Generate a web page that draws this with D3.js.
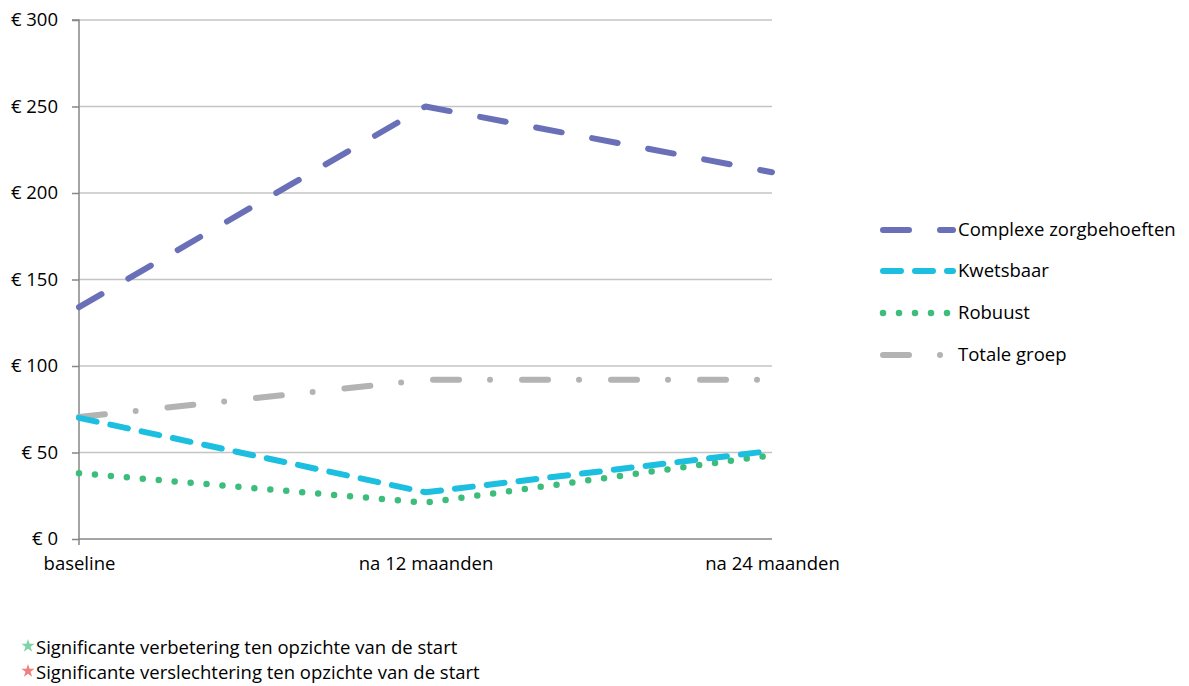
<!DOCTYPE html>
<html>
<head>
<meta charset="utf-8">
<script src="https://cdn.jsdelivr.net/npm/d3@7"></script>
<style>
  body { margin: 0; background: #fff; }
  svg { display: block; font-family: "Open Sans", "Noto Sans", sans-serif; }
</style>
</head>
<body>
<svg id="chart" width="1189" height="686"></svg>
<script>
const categories = ["baseline", "na 12 maanden", "na 24 maanden"];
const seriesNames = ["Complexe zorgbehoeften", "Kwetsbaar", "Robuust", "Totale groep"];
const complexe = [134, 250, 212];
const kwetsbaar = [70, 27, 51];
const robuust = [38, 21, 48.5];
const totale = [70.5, 92, 92];
const yTicks = [0, 50, 100, 150, 200, 250, 300];
const notes = ["Significante verbetering ten opzichte van de start", "Significante verslechtering ten opzichte van de start"];

(function () {
const FS = 18.5;
const series = [
  { name: seriesNames[0], values: complexe, color: "#6A70B8", dash: "26,31", width: 6 },
  { name: seriesNames[1], values: kwetsbaar, color: "#1CBFE0", dash: "18,14", width: 6 },
  { name: seriesNames[2], values: robuust, color: "#3DBD7B", dash: "0,16", width: 6.5 },
  { name: seriesNames[3], values: totale, color: "#B3B3B3", dash: "26,31,0,32", width: 6 }
];

const svg = d3.select("#chart");
const pLeft = 79, pRight = 772, pTop = 20, pBottom = 539;

const x = d3.scalePoint().domain(categories).range([pLeft, pRight]);
const y = d3.scaleLinear().domain([0, 300]).range([pBottom, pTop]);

// gridlines
svg.append("g").selectAll("line").data(yTicks.filter(d => d > 0)).join("line")
  .attr("x1", pLeft).attr("x2", pRight)
  .attr("y1", d => y(d)).attr("y2", d => y(d))
  .attr("stroke", "#C4C4C4").attr("stroke-width", 1.5);

// y axis
const yAxis = svg.append("g").attr("transform", `translate(${pLeft},0)`)
  .call(d3.axisLeft(y).tickValues(yTicks).tickSize(7).tickPadding(14).tickFormat(d => "€ " + d));
yAxis.select(".domain").attr("stroke", "#868686").attr("stroke-width", 1.5)
  .attr("d", `M-7,${pTop}H0V${pBottom + 6}`);
yAxis.selectAll(".tick line").attr("stroke", "#868686").attr("stroke-width", 1.5);
yAxis.selectAll(".tick text").attr("font-size", FS).attr("fill", "#000")
  .attr("font-family", "Open Sans, sans-serif");

// x axis line
const xAxis = svg.append("g").attr("transform", `translate(0,${pBottom})`)
  .call(d3.axisBottom(x).tickSize(0).tickPadding(18));
xAxis.select(".domain").attr("stroke", "#868686").attr("stroke-width", 1.5)
  .attr("d", `M${pLeft},0H${pRight}`);
xAxis.selectAll(".tick text").attr("font-size", FS).attr("fill", "#000")
  .attr("font-family", "Open Sans, sans-serif");

// lines
const line = d3.line().x((d, i) => x(categories[i])).y(d => y(d));
svg.append("g").selectAll("path").data(series.slice().reverse()).join("path")
  .attr("d", d => line(d.values))
  .attr("fill", "none")
  .attr("stroke", d => d.color)
  .attr("stroke-width", d => d.width)
  .attr("stroke-dasharray", d => d.dash)
  .attr("stroke-linecap", "round")
  .attr("stroke-linejoin", "round");

// legend
const legendY = [230, 271, 313, 355];
const lg = svg.append("g").selectAll("g").data(series).join("g")
  .attr("transform", (d, i) => `translate(0,${legendY[i]})`);
lg.append("line")
  .attr("x1", 883).attr("x2", 953).attr("y1", 0).attr("y2", 0)
  .attr("stroke", d => d.color)
  .attr("stroke-width", d => d.width)
  .attr("stroke-dasharray", d => d.dash)
  .attr("stroke-linecap", "round");
lg.append("text")
  .attr("x", 958).attr("y", 0).attr("dy", "0.35em")
  .attr("font-size", FS).attr("fill", "#000")
  .text(d => d.name);

// footnotes
const noteColors = ["#7DD3A3", "#F08080"];
const ng = svg.append("g").selectAll("g").data(notes).join("g")
  .attr("transform", (d, i) => `translate(0,${648 + i * 25})`);
ng.append("path")
  .attr("d", d3.symbol().type(d3.symbolStar).size(55))
  .attr("transform", "translate(28,-2)")
  .attr("fill", (d, i) => noteColors[i]);
ng.append("text")
  .attr("x", 36).attr("y", 0).attr("dy", "0.35em")
  .attr("font-size", FS).attr("fill", "#000")
  .text(d => d);
})();
</script>
</body>
</html>
